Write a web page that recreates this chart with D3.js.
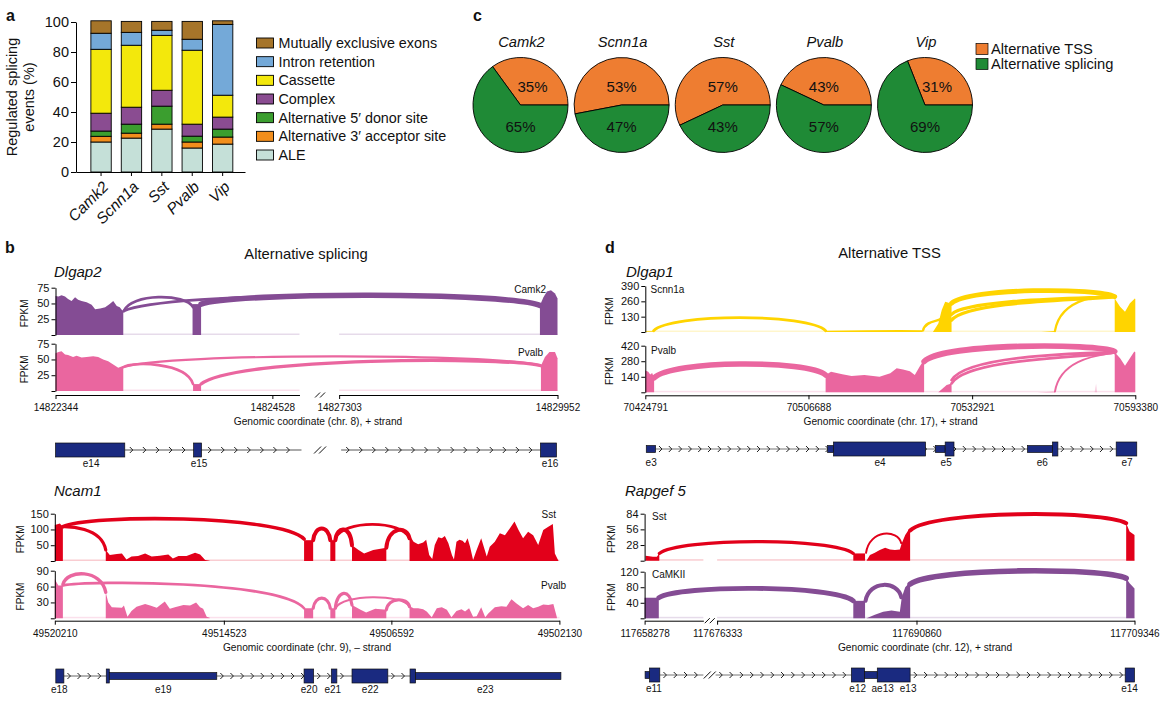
<!DOCTYPE html>
<html>
<head>
<meta charset="utf-8">
<script src="https://cdn.jsdelivr.net/npm/d3@7"></script>
<style>
  body { margin: 0; background: #fff; }
  text { font-family: "Liberation Sans", Arial, sans-serif; fill: #111; }
  .axis path, .axis line { stroke: #000; }
</style>
</head>
<body>
<svg id="figure" width="1172" height="711"></svg>
<script>
// ---- panel a: stacked bars (regulated splicing events, %)
const cellTypes = ['Camk2', 'Scnn1a', 'Sst', 'Pvalb', 'Vip'];
const eventNames = ['ALE', 'Alternative 3\u2032 acceptor site', 'Alternative 5\u2032 donor site', 'Complex', 'Cassette', 'Intron retention', 'Mutually exclusive exons'];
const aleValues = [20, 22.6, 28.6, 16, 18.6];
const acceptorValues = [3.8, 3.3, 3.3, 4, 4.7];
const donorValues = [3.5, 6, 12, 3.9, 5.3];
const complexValues = [11.9, 11.3, 10.6, 8, 8];
const cassetteValues = [42.6, 41.3, 36.6, 49.3, 14.6];
const intronValues = [10.7, 8.6, 3.4, 7.3, 47.2];
const exclusiveValues = [8.3, 7.3, 5.9, 11.9, 2.4];
const eventColors = ['#c5e0d8', '#f28e1c', '#3b9e2f', '#8a4c91', '#f3e80c', '#74a9d8', '#a6752a'];

// ---- panel c: pies (%)
const tssShare = [35, 53, 57, 43, 31];
const splicingShare = [65, 47, 43, 57, 69];

// ---- panels b, d: sashimi tracks. x is per-mille along the axis, y is FPKM.
// coverage = list of blocks of [x, fpkm]; arcs = [from, to, startFpkm, endFpkm, midFpkm, weight]
const dlgap2CamkCoverage = [
  [[0, 62], [6, 61], [12, 63], [19, 61], [25, 57], [32, 54], [39, 60], [45, 56], [52, 54], [62, 52], [72, 48], [79, 41], [89, 42], [99, 44], [108, 49], [115, 54], [122, 46], [128, 44], [135, 37]],
  [[273, 49], [290, 49]],
  [[965, 47], [972, 60], [979, 69], [987, 71], [995, 66], [1000, 58]]
];
const dlgap2CamkArcs = [[136, 274, 38, 44, 60, 3.4], [136, 965, 38, 47, 63, 3.4], [290, 965, 49, 47, 63, 7]];
const dlgap2PvalbCoverage = [
  [[0, 60], [6, 62], [12, 63], [19, 58], [25, 57], [35, 54], [42, 56], [52, 53], [62, 54], [75, 55], [85, 54], [95, 50], [105, 47], [115, 42], [125, 37], [135, 40]],
  [[274, 11], [290, 11]],
  [[967, 40], [975, 54], [984, 62], [995, 62], [1000, 52]]
];
const dlgap2PvalbArcs = [[136, 274, 38, 11, 41, 3.2], [136, 967, 38, 40, 55, 2.8], [290, 967, 11, 40, 47, 4]];

const ncam1SstCoverage = [
  [[0, 114], [10, 119], [16, 109]],
  [[101, 35], [109, 19], [123, 22], [133, 24], [142, 5], [152, 14], [165, 16], [179, 24], [192, 14], [208, 17], [225, 21], [234, 8], [245, 16], [261, 16], [278, 26], [288, 21], [298, 3], [307, 1]],
  [[494, 66], [512, 66]],
  [[546, 66], [556, 66]],
  [[589, 50], [602, 35], [613, 24], [631, 35], [657, 42]],
  [[703, 82], [711, 61], [720, 53], [730, 59], [736, 67], [742, 19], [748, 6], [753, 51], [760, 75], [767, 72], [773, 79], [780, 56], [787, 19], [791, 5], [796, 61], [802, 67], [808, 64], [813, 56], [818, 72], [823, 45], [829, 3], [836, 35], [845, 72], [853, 30], [856, 14], [862, 45], [872, 61], [882, 88], [892, 82], [902, 104], [911, 125], [919, 98], [928, 72], [938, 93], [948, 82], [958, 51], [968, 98], [978, 109], [987, 117], [991, 24], [998, 1]]
];
const ncam1SstArcs = [[16, 101, 109, 35, 100, 4], [16, 494, 109, 70, 133, 4.5], [512, 546, 66, 66, 103, 5], [556, 589, 66, 50, 100, 5], [556, 703, 72, 72, 116, 3.5], [657, 703, 42, 72, 98, 5]];
const ncam1PvalbCoverage = [
  [[0, 74], [7, 62], [16, 62]],
  [[101, 49], [106, 30], [113, 21], [133, 20], [137, 24], [144, 3], [152, 14], [162, 22], [179, 27], [189, 24], [202, 20], [218, 32], [228, 18], [238, 21], [255, 25], [268, 24], [280, 30], [288, 21], [294, 18], [301, 3], [307, 1]],
  [[494, 19], [512, 19]],
  [[546, 19], [556, 19]],
  [[589, 25], [606, 16], [617, 11], [635, 18], [657, 16]],
  [[703, 23], [711, 19], [720, 19], [730, 17], [737, 13], [747, 2], [757, 19], [767, 21], [777, 16], [786, 2], [796, 14], [806, 17], [813, 13], [821, 19], [829, 3], [836, 4], [845, 21], [853, 2], [859, 9], [872, 21], [885, 23], [895, 22], [905, 36], [915, 28], [928, 19], [938, 25], [948, 19], [958, 22], [968, 26], [978, 25], [988, 27], [995, 2]]
];
const ncam1PvalbArcs = [[16, 101, 64, 49, 84, 4.2], [16, 494, 62, 19, 64, 3.3], [512, 546, 19, 19, 38, 4], [556, 589, 19, 25, 47, 4], [556, 703, 19, 22, 40, 2.5], [657, 703, 16, 22, 35, 4]];

const dlgap1ScnnCoverage = [
  [[0, 6], [17, 6]],
  [[368, 10], [450, 14], [520, 16], [566, 14]],
  [[587, 0], [598, 73], [605, 186], [612, 257], [619, 249], [625, 229]],
  [[808, 0], [836, 8]],
  [[958, 285], [969, 215], [979, 172], [989, 243], [999, 285], [1000, 280]]
];
const dlgap1ScnnArcs = [[17, 368, 11, 11, 122, 3.5], [567, 601, 14, 107, 85, 3], [625, 958, 243, 300, 350, 6], [625, 958, 150, 300, 270, 4], [625, 958, 100, 300, 255, 4], [836, 958, 8, 300, 275, 2.8]];
const dlgap1PvalbCoverage = [
  [[0, 196], [6, 186], [10, 160], [14, 175], [18, 130]],
  [[368, 156], [379, 186], [402, 162], [421, 147], [447, 156], [478, 141], [500, 172], [513, 217], [526, 205], [540, 190], [550, 157], [560, 232], [569, 293]],
  [[598, 0], [615, 66], [625, 80]],
  [[800, 0], [836, 6]],
  [[958, 360], [969, 308], [979, 239], [989, 308], [998, 368], [1000, 360]]
];
const dlgap1PvalbFaint = [[[917, 0], [920, 80], [922, 0]]];
const dlgap1PvalbArcs = [[18, 368, 130, 156, 255, 7], [569, 958, 278, 368, 414, 7], [625, 958, 110, 360, 323, 3.4], [625, 958, 80, 360, 293, 3.4], [836, 958, 6, 360, 299, 2.4]];

const rapgef5SstCoverage = [
  [[2, 9], [17, 7], [25, 7], [30, 13]],
  [[426, 13], [450, 13]],
  [[453, 0], [460, 10], [470, 14], [480, 19], [491, 23], [501, 20], [511, 19], [521, 20], [525, 31], [532, 46], [538, 54], [542, 55]],
  [[983, 67], [990, 52], [1000, 46]]
];
const rapgef5SstArcs = [[30, 426, 13, 13, 34, 4], [452, 524, 14, 31, 48, 2.5], [542, 983, 54, 67, 83, 5]];
const rapgef5CamCoverage = [
  [[0, 53], [29, 53]],
  [[426, 45], [450, 45]],
  [[453, 0], [470, 9], [487, 17], [504, 20], [521, 17], [525, 54], [532, 80], [540, 91], [542, 91]],
  [[983, 103], [990, 90], [1000, 77]]
];
const rapgef5CamArcs = [[29, 426, 53, 45, 77, 6], [451, 524, 45, 54, 86, 5], [542, 983, 88, 103, 122, 7]];

// axis ticks: x position on the axis and the genomic coordinate printed there
const dlgap2TickPos = [0, 432, 565, 1000];
const dlgap2TickLabels = ['14822344', '14824528', '14827303', '14829952'];
const ncam1TickPos = [0, 335, 667, 1000];
const ncam1TickLabels = ['49520210', '49514523', '49506592', '49502130'];
const dlgap1TickPos = [0, 333, 667, 1000];
const dlgap1TickLabels = ['70424791', '70506688', '70532921', '70593380'];
const rapgef5TickPos = [0, 148, 555, 1000];
const rapgef5TickLabels = ['117658278', '117676333', '117690860', '117709346'];

// gene models: exons = [from, to, kind], introns = [from, to], labels = [name, x]
const dlgap2Exons = [[0, 138, 'cds'], [275, 291, 'cds'], [966, 998, 'cds']];
const dlgap2Introns = [[138, 490], [569, 966]];
const dlgap2ExonLabels = [['e14', 71], ['e15', 286], ['e16', 985]];
const ncam1Exons = [[2, 18, 'cds'], [102, 108, 'cds'], [108, 321, 'utr'], [494, 513, 'cds'], [548, 559, 'cds'], [589, 660, 'cds'], [704, 715, 'cds'], [715, 1003, 'utr']];
const ncam1Introns = [[18, 102], [321, 494], [513, 548], [559, 589], [660, 704]];
const ncam1ExonLabels = [['e18', 9], ['e19', 215], ['e20', 504], ['e21', 551], ['e22', 625], ['e23', 853]];
const dlgap1Exons = [[2, 21, 'utr'], [372, 384, 'utr'], [384, 572, 'cds'], [592, 612, 'utr'], [612, 630, 'cds'], [780, 831, 'utr'], [831, 842, 'cds'], [961, 1003, 'cds']];
const dlgap1Introns = [[21, 961]];
const dlgap1ExonLabels = [['e3', 12], ['e4', 479], ['e5', 614], ['e6', 810], ['e7', 983]];
const rapgef5Exons = [[1, 10, 'utr'], [10, 31, 'cds'], [422, 449, 'cds'], [449, 475, 'utr'], [475, 542, 'cds'], [981, 1000, 'cds']];
const rapgef5Introns = [[31, 120], [145, 422], [542, 981]];
const rapgef5ExonLabels = [['e11', 19], ['e12', 435], ['ae13', 486], ['e13', 538], ['e14', 990]];

// ---- layout
const svg = d3.select('#figure');
const navy = '#1a2a80';
const purple = '#844c94';
const pink = '#ea669f';
const red = '#e2001a';
const gold = '#ffd400';

function label(str, x, y, size, opts = {}) {
  return svg.append('text').attr('x', x).attr('y', y)
    .attr('font-size', size)
    .attr('text-anchor', opts.anchor || 'start')
    .attr('font-style', opts.italic ? 'italic' : null)
    .attr('font-weight', opts.bold ? 'bold' : null)
    .attr('transform', opts.rotate ? `rotate(${opts.rotate} ${x} ${y})` : null)
    .text(str);
}

label('a', 6, 21, 16, { bold: true });
label('b', 5, 253, 16, { bold: true });
label('c', 473, 21, 16, { bold: true });
label('d', 605, 253, 16, { bold: true });

// Panel a
const barX = d3.scaleBand().domain(cellTypes).range([76, 245]).paddingInner(0.33).paddingOuter(0.445).align(0.55);
const barY = d3.scaleLinear().domain([0, 100]).range([172, 22]);
const eventSeries = [aleValues, acceptorValues, donorValues, complexValues, cassetteValues, intronValues, exclusiveValues];
const stackRows = cellTypes.map((c, i) => {
  const row = { cell: c };
  eventNames.forEach((n, j) => { row[n] = eventSeries[j][i]; });
  return row;
});
svg.append('g').selectAll('g')
  .data(d3.stack().keys(eventNames)(stackRows))
  .join('g')
  .attr('fill', (d, i) => eventColors[i])
  .selectAll('rect')
  .data(d => d)
  .join('rect')
  .attr('x', d => barX(d.data.cell))
  .attr('width', barX.bandwidth())
  .attr('y', d => barY(d[1]))
  .attr('height', d => barY(d[0]) - barY(d[1]))
  .attr('stroke', '#000')
  .attr('stroke-width', 0.9);

const barAxisY = svg.append('g').attr('class', 'axis').attr('transform', 'translate(76,0)')
  .call(d3.axisLeft(barY).tickValues([0, 20, 40, 60, 80, 100]).tickSize(5).tickPadding(2).tickSizeOuter(0));
barAxisY.selectAll('text').attr('font-size', 14.5);
const barAxisX = svg.append('g').attr('class', 'axis').attr('transform', 'translate(0,172)')
  .call(d3.axisBottom(barX).tickSize(4).tickSizeOuter(0));
barAxisX.selectAll('text')
  .attr('font-size', 15.5).attr('font-style', 'italic')
  .attr('text-anchor', 'end')
  .attr('dx', -5.4).attr('dy', 10)
  .attr('transform', 'rotate(-45)');
label('Regulated splicing', 16.5, 97, 14.5, { anchor: 'middle', rotate: -90 });
label('events (%)', 34, 97, 14.5, { anchor: 'middle', rotate: -90 });

const legendY = d3.scalePoint().domain(eventNames.slice().reverse()).range([43, 155]);
eventNames.forEach((n, i) => {
  svg.append('rect').attr('x', 256.5).attr('y', legendY(n) - 5).attr('width', 17).attr('height', 10)
    .attr('fill', eventColors[i]).attr('stroke', '#000').attr('stroke-width', 0.9);
  label(n, 278.5, legendY(n) + 5, 14.35);
});

// Panel c
const pieCenters = d3.scalePoint().domain(cellTypes).range([520.5, 925]);
const pieRadius = 47.5;
const pieArc = d3.arc().innerRadius(0).outerRadius(pieRadius);
const pieColors = ['#ee7d31', '#1f8a36'];
cellTypes.forEach((c, i) => {
  const cx = pieCenters(c);
  const vals = [tssShare[i], splicingShare[i]];
  const start = Math.PI / 2 - vals[0] / 100 * 2 * Math.PI;
  const slices = d3.pie().sort(null).startAngle(start).endAngle(start + 2 * Math.PI)(vals);
  svg.append('g').attr('transform', `translate(${cx},105)`)
    .selectAll('path').data(slices).join('path')
    .attr('d', pieArc)
    .attr('fill', (d, j) => pieColors[j])
    .attr('stroke', '#000').attr('stroke-width', 0.9);
  label(c, cx + 1, 47, 14.7, { anchor: 'middle', italic: true });
  label(vals[0] + '%', cx + (vals[0] < 40 ? 12 : 0), 91.5, 15, { anchor: 'middle' });
  label(vals[1] + '%', cx, 131.5, 15, { anchor: 'middle' });
});
[['Alternative TSS', 49, pieColors[0]], ['Alternative splicing', 64, pieColors[1]]].forEach(d => {
  svg.append('rect').attr('x', 976).attr('y', d[1] - 5.5).attr('width', 12).attr('height', 11)
    .attr('fill', d[2]).attr('stroke', '#000').attr('stroke-width', 0.7);
  label(d[0], 991, d[1] + 5, 14.7);
});

// Panels b, d
function breakMark(px, py, size) {
  const p = d3.path();
  [-2.5, 2.5].forEach(o => { p.moveTo(px + o - size, py + size); p.lineTo(px + o + size, py - size); });
  svg.append('path').attr('d', p.toString()).attr('fill', 'none').attr('stroke', '#111').attr('stroke-width', 1);
}

function drawTrack(t, x) {
  const y = d3.scaleLinear().domain([0, t.ticks[t.ticks.length - 1]]).range(t.yRange);
  const g = svg.append('g');
  const area = d3.area().x(d => x(d[0])).y0(y(0)).y1(d => y(d[1]));
  t.segments.forEach(s => {
    g.append('rect').attr('x', x(s[0])).attr('y', y(0) - 1.5).attr('width', x(s[1]) - x(s[0])).attr('height', 1.5)
      .attr('fill', t.color).attr('opacity', 0.2);
  });
  g.selectAll('path.faint').data(t.faint || []).join('path').attr('class', 'faint')
    .attr('d', area).attr('fill', t.color).attr('opacity', 0.3);
  g.selectAll('path.cov').data(t.coverage).join('path').attr('class', 'cov')
    .attr('d', area).attr('fill', t.color);
  g.selectAll('path.arc').data(t.arcs).join('path').attr('class', 'arc')
    .attr('d', a => {
      const bend = (a[1] - a[0]) * 0.1;
      const c = (a[4] - (a[2] + a[3]) / 8) * 4 / 3;
      const p = d3.path();
      p.moveTo(x(a[0]), y(a[2]));
      p.bezierCurveTo(x(a[0] + bend), y(c), x(a[1] - bend), y(c), x(a[1]), y(a[3]));
      return p.toString();
    })
    .attr('fill', 'none').attr('stroke', t.color)
    .attr('stroke-linecap', 'round')
    .attr('stroke-width', a => a[5] * 0.8);
  const ax = svg.append('g').attr('class', 'axis').attr('transform', `translate(${x.range()[0]},0)`)
    .call(d3.axisLeft(y).tickValues([0].concat(t.ticks)).tickSize(4).tickPadding(2)
      .tickFormat(v => v === 0 ? '' : v).tickSizeOuter(0));
  ax.selectAll('text').attr('font-size', 11);
  label('FPKM', t.fpkmX, (t.yRange[0] + t.yRange[1]) / 2 + 2, 10, { anchor: 'middle', rotate: -90 });
  label(t.name, t.nameX, t.nameY, 10, { anchor: t.nameAnchor });
}

function drawGenomeAxis(p, x) {
  p.axisSegments.forEach(s => {
    const segScale = d3.scaleLinear().domain(s).range([x(s[0]), x(s[1])]);
    const values = p.tickPos.filter(v => v >= s[0] && v <= s[1]);
    const ax = svg.append('g').attr('class', 'axis').attr('transform', `translate(0,${p.axisY})`)
      .call(d3.axisBottom(segScale).tickValues(values).tickSize(4).tickPadding(5).tickSizeOuter(0)
        .tickFormat(v => p.tickLabels[p.tickPos.indexOf(v)]));
    ax.selectAll('text').attr('font-size', 10);
  });
  if (p.breakAt !== undefined) breakMark(x(p.breakAt), p.axisY, 2.5);
  label(p.axisTitle, p.axisTitleX, p.axisY + 30, 10.2, { anchor: 'middle' });
}

function drawGene(p, x) {
  const g = svg.append('g');
  p.introns.forEach(s => {
    g.append('line').attr('x1', x(s[0])).attr('x2', x(s[1])).attr('y1', p.geneY).attr('y2', p.geneY)
      .attr('stroke', p.intronColor).attr('stroke-width', p.intronWidth);
    d3.range(s[0] + p.chevronStep / 2, s[1] - 2, p.chevronStep).forEach(c => {
      const cx = x(c);
      g.append('path').attr('d', `M${cx - 1.5},${p.geneY - 3}L${cx + 1.5},${p.geneY}L${cx - 1.5},${p.geneY + 3}`)
        .attr('fill', 'none').attr('stroke', '#222').attr('stroke-width', 1);
    });
  });
  g.selectAll('rect').data(p.exons).join('rect')
    .attr('x', d => x(d[0]))
    .attr('width', d => x(d[1]) - x(d[0]))
    .attr('y', d => p.geneY - (d[2] === 'cds' ? 7 : 3.5))
    .attr('height', d => d[2] === 'cds' ? 14 : 7)
    .attr('fill', navy).attr('stroke', '#111').attr('stroke-width', 0.7);
  if (p.breakAt !== undefined) breakMark(x(p.breakAt), p.geneY, 3.5);
  p.exonLabels.forEach(d => label(d[0], x(d[1]), p.geneY + 17, 10, { anchor: 'middle' }));
}

const panels = [
  {
    gene: 'Dlgap2', geneX: 54, geneTitleY: 277, xRange: [55.5, 557.5],
    axisY: 395, axisSegments: [[0, 486], [565, 1000]], breakAt: 527, axisTitle: 'Genomic coordinate (chr. 8), + strand', axisTitleX: 318,
    tickPos: dlgap2TickPos, tickLabels: dlgap2TickLabels,
    geneY: 450, exons: dlgap2Exons, introns: dlgap2Introns, exonLabels: dlgap2ExonLabels, chevronStep: 26, intronColor: '#aaa', intronWidth: 1.8,
    tracks: [
      { name: 'Camk2', color: purple, ticks: [25, 50, 75], yRange: [335, 287.7], coverage: dlgap2CamkCoverage, arcs: dlgap2CamkArcs, fpkmX: 28, nameX: 546, nameY: 293, nameAnchor: 'end' },
      { name: 'Pvalb', color: pink, ticks: [25, 50, 75], yRange: [391, 343.7], coverage: dlgap2PvalbCoverage, arcs: dlgap2PvalbArcs, fpkmX: 28, nameX: 543, nameY: 356, nameAnchor: 'end' }
    ]
  },
  {
    gene: 'Ncam1', geneX: 54, geneTitleY: 496, xRange: [54.8, 559.4],
    axisY: 620.7, axisSegments: [[0, 1000]], axisTitle: 'Genomic coordinate (chr. 9), \u2013 strand', axisTitleX: 307,
    tickPos: ncam1TickPos, tickLabels: ncam1TickLabels,
    geneY: 676, exons: ncam1Exons, introns: ncam1Introns, exonLabels: ncam1ExonLabels, chevronStep: 20, intronColor: '#666', intronWidth: 1,
    tracks: [
      { name: 'Sst', color: red, ticks: [50, 100, 150], yRange: [561, 513.7], coverage: ncam1SstCoverage, arcs: ncam1SstArcs, fpkmX: 24, nameX: 556, nameY: 518, nameAnchor: 'end' },
      { name: 'Pvalb', color: pink, ticks: [30, 60, 90], yRange: [618.3, 570.7], coverage: ncam1PvalbCoverage, arcs: ncam1PvalbArcs, fpkmX: 24, nameX: 566, nameY: 589, nameAnchor: 'end' }
    ]
  },
  {
    gene: 'Dlgap1', geneX: 626, geneTitleY: 277, xRange: [645.3, 1135.3],
    axisY: 395.3, axisSegments: [[0, 1000]], axisTitle: 'Genomic coordinate (chr. 17), + strand', axisTitleX: 890.6,
    tickPos: dlgap1TickPos, tickLabels: dlgap1TickLabels,
    geneY: 449, exons: dlgap1Exons, introns: dlgap1Introns, exonLabels: dlgap1ExonLabels, chevronStep: 20, intronColor: '#777', intronWidth: 1,
    tracks: [
      { name: 'Scnn1a', color: gold, ticks: [130, 260, 390], yRange: [332, 286], coverage: dlgap1ScnnCoverage, arcs: dlgap1ScnnArcs, fpkmX: 613, nameX: 650.5, nameY: 293, nameAnchor: 'start' },
      { name: 'Pvalb', color: pink, ticks: [140, 280, 420], yRange: [392.3, 345.7], coverage: dlgap1PvalbCoverage, faint: dlgap1PvalbFaint, arcs: dlgap1PvalbArcs, fpkmX: 613, nameX: 651, nameY: 354, nameAnchor: 'start' }
    ]
  },
  {
    gene: 'Rapgef 5', geneX: 625, geneTitleY: 496, xRange: [644.6, 1134.5],
    axisY: 620.7, axisSegments: [[0, 120], [148, 1000]], breakAt: 133, axisTitle: 'Genomic coordinate (chr. 12), + strand', axisTitleX: 925,
    tickPos: rapgef5TickPos, tickLabels: rapgef5TickLabels,
    geneY: 675, exons: rapgef5Exons, introns: rapgef5Introns, exonLabels: rapgef5ExonLabels, chevronStep: 21, intronColor: '#777', intronWidth: 1,
    tracks: [
      { name: 'Sst', color: red, ticks: [28, 56, 84], yRange: [560.7, 513.7], coverage: rapgef5SstCoverage, arcs: rapgef5SstArcs, fpkmX: 615, nameX: 652, nameY: 520, nameAnchor: 'start' },
      { name: 'CaMKII', color: purple, ticks: [40, 80, 120], yRange: [618.3, 571.7], coverage: rapgef5CamCoverage, arcs: rapgef5CamArcs, fpkmX: 615, nameX: 652, nameY: 578, nameAnchor: 'start' }
    ]
  }
];

panels.forEach(p => {
  const x = d3.scaleLinear().domain([0, 1000]).range(p.xRange);
  label(p.gene, p.geneX, p.geneTitleY, 15, { italic: true });
  p.tracks.forEach(t => {
    t.segments = p.axisSegments;
    drawTrack(t, x);
  });
  drawGenomeAxis(p, x);
  drawGene(p, x);
});

label('Alternative splicing', 306, 259, 14.8, { anchor: 'middle' });
label('Alternative TSS', 889.5, 258, 14.8, { anchor: 'middle' });
</script>
</body>
</html>
